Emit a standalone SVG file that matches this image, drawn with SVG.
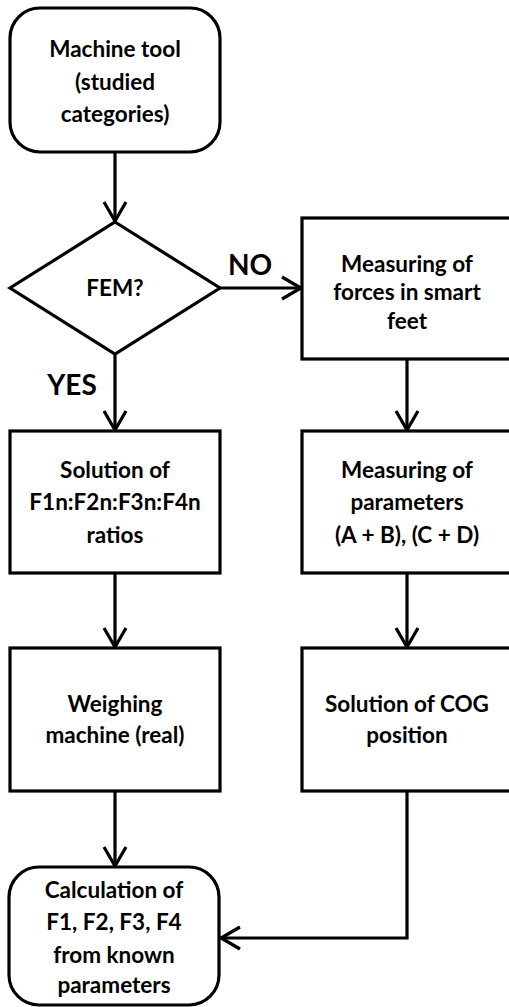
<svg xmlns="http://www.w3.org/2000/svg" width="509" height="1007" viewBox="0 0 509 1007">
<defs>
<style>
.box{fill:#fff;stroke:#000;stroke-width:3.2}
.t{font-family:Lato,"Liberation Sans",sans-serif;font-weight:700;font-size:22.5px;text-anchor:middle;fill:#000}
.lbl{font-family:Lato,"Liberation Sans",sans-serif;font-weight:700;font-size:28px;text-anchor:middle;fill:#000}
.c{fill:none;stroke:#000;stroke-width:3.2}
</style>
<marker id="arr" markerUnits="userSpaceOnUse" viewBox="-22 -14 24 28" markerWidth="24" markerHeight="28" refX="0" refY="0" orient="auto" overflow="visible">
<path d="M-19,-11 L0,0 L-19,11" fill="none" stroke="#000" stroke-width="3.2"/>
</marker>
</defs>
<rect width="509" height="1007" fill="#fff"/>
<g id="connectors">
<path class="c" d="M115,152 V221" marker-end="url(#arr)"/>
<path class="c" d="M220,288 H301" marker-end="url(#arr)"/>
<path class="c" d="M115,354 V430" marker-end="url(#arr)"/>
<path class="c" d="M407,359 V430" marker-end="url(#arr)"/>
<path class="c" d="M115,573 V647" marker-end="url(#arr)"/>
<path class="c" d="M407,573 V647" marker-end="url(#arr)"/>
<path class="c" d="M115,791 V866" marker-end="url(#arr)"/>
<path class="c" d="M407,791 V938 H221" marker-end="url(#arr)"/>
</g>
<g id="start">
<rect class="box" x="10" y="8" width="210" height="144" rx="30"/>
<text class="t" x="115" y="57">Machine tool</text>
<text class="t" x="115" y="90">(studied</text>
<text class="t" x="115" y="122">categories)</text>
</g>
<g id="fem">
<path class="box" d="M115,222 L220,288 L115,354 L10,288 Z"/>
<text class="t" x="115" y="296">FEM?</text>
</g>
<g id="labels">
<text class="lbl" x="250" y="275">NO</text>
<text class="lbl" x="72" y="395">YES</text>
</g>
<g id="measure-forces">
<rect class="box" x="302" y="218" width="210" height="141"/>
<text class="t" x="407" y="272">Measuring of</text>
<text class="t" x="407" y="300">forces in smart</text>
<text class="t" x="407" y="329">feet</text>
</g>
<g id="ratios">
<rect class="box" x="10" y="431" width="210" height="142"/>
<text class="t" x="115" y="478">Solution of</text>
<text class="t" x="115" y="510">F1n:F2n:F3n:F4n</text>
<text class="t" x="115" y="543">ratios</text>
</g>
<g id="measure-params">
<rect class="box" x="302" y="431" width="210" height="142"/>
<text class="t" x="407" y="478">Measuring of</text>
<text class="t" x="407" y="510">parameters</text>
<text class="t" x="407" y="543">(A + B), (C + D)</text>
</g>
<g id="weighing">
<rect class="box" x="10" y="648" width="210" height="143"/>
<text class="t" x="115" y="712">Weighing</text>
<text class="t" x="115" y="743">machine (real)</text>
</g>
<g id="cog">
<rect class="box" x="302" y="648" width="210" height="143"/>
<text class="t" x="407" y="712">Solution of COG</text>
<text class="t" x="407" y="743">position</text>
</g>
<g id="calc">
<rect class="box" x="9" y="867" width="210" height="138" rx="30"/>
<text class="t" x="114" y="898">Calculation of</text>
<text class="t" x="114" y="930">F1, F2, F3, F4</text>
<text class="t" x="114" y="963">from known</text>
<text class="t" x="114" y="993">parameters</text>
</g>
</svg>
